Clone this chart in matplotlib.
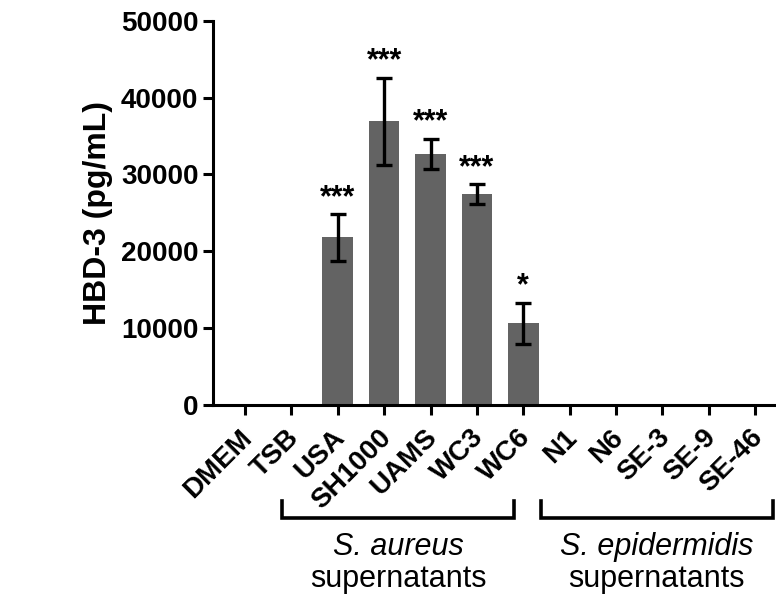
import matplotlib
matplotlib.use("Agg")
import matplotlib.pyplot as plt
import matplotlib.transforms as mtransforms
import numpy as np

plt.rcParams['font.family'] = ['Liberation Sans', 'DejaVu Sans']

categories = ["DMEM", "TSB", "USA", "SH1000", "UAMS", "WC3", "WC6",
              "N1", "N6", "SE-3", "SE-9", "SE-46"]
values = [0, 0, 21800, 36900, 32650, 27400, 10650, 0, 0, 0, 0, 0]
errors = [0, 0, 3000, 5700, 1950, 1300, 2650, 0, 0, 0, 0, 0]
stars = ["", "", "***", "***", "***", "***", "*", "", "", "", "", ""]
yticks = [0, 10000, 20000, 30000, 40000, 50000]

fig = plt.figure(figsize=(7.76, 6.01), dpi=100)
ax = fig.add_axes([213/776, 1-405/601, 1-213/776, (405-20.7)/601])

x = np.arange(len(categories))
ax.bar(x, values, width=0.66, color="#636363", zorder=2)
mask = np.array(errors) > 0
ax.errorbar(x[mask], np.array(values)[mask], yerr=np.array(errors)[mask],
            fmt='none', ecolor='black', elinewidth=2.4, capsize=5.8,
            capthick=2.4, zorder=3)
for xi, v, e, s in zip(x, values, errors, stars):
    if s:
        ax.annotate(s, (xi, v + e), xytext=(0, 1), textcoords='offset points',
                    ha='center', va='bottom', fontsize=22, fontweight='bold')

ax.set_xlim(-0.69, 11.45)
ax.set_ylim(0, 50000)
ax.set_yticks(yticks)
ax.set_yticklabels([str(t) for t in yticks], fontsize=20, fontweight='bold')
ax.set_xticks(x)
ax.set_xticklabels(categories, rotation=45, ha='right', va='top',
                   rotation_mode='anchor', fontsize=20, fontweight='bold')
ax.set_ylabel("HBD-3 (pg/mL)", fontsize=23, fontweight='bold', labelpad=6)

for side in ['top', 'right']:
    ax.spines[side].set_visible(False)
for side in ['left', 'bottom']:
    ax.spines[side].set_linewidth(2.2)
ax.tick_params(axis='both', width=2.2, length=7, direction='out')
ax.tick_params(axis='x', pad=7)
ax.tick_params(axis='y', pad=3.5)
shift = mtransforms.ScaledTranslation(-6/100, 0, fig.dpi_scale_trans)
for lab in ax.get_xticklabels():
    lab.set_transform(lab.get_transform() + shift)

trans = mtransforms.blended_transform_factory(ax.transData, fig.transFigure)
groups = [(0.8, 5.8, "S. aureus"), (6.38, 11.38, "S. epidermidis")]
for x0, x1, name in groups:
    yb = 1 - 518/601
    yt = 1 - 501/601
    ax.plot([x0, x0, x1, x1], [yt, yb, yb, yt], color='black', lw=2.6,
            transform=trans, clip_on=False, solid_joinstyle='miter')
    xm = (x0 + x1) / 2
    ax.text(xm, 1 - 547/601, name, transform=trans, ha='center', va='center',
            fontsize=22, style='italic')
    ax.text(xm, 1 - 579/601, "supernatants", transform=trans, ha='center',
            va='center', fontsize=22)

fig.savefig("out.png", dpi=100)
